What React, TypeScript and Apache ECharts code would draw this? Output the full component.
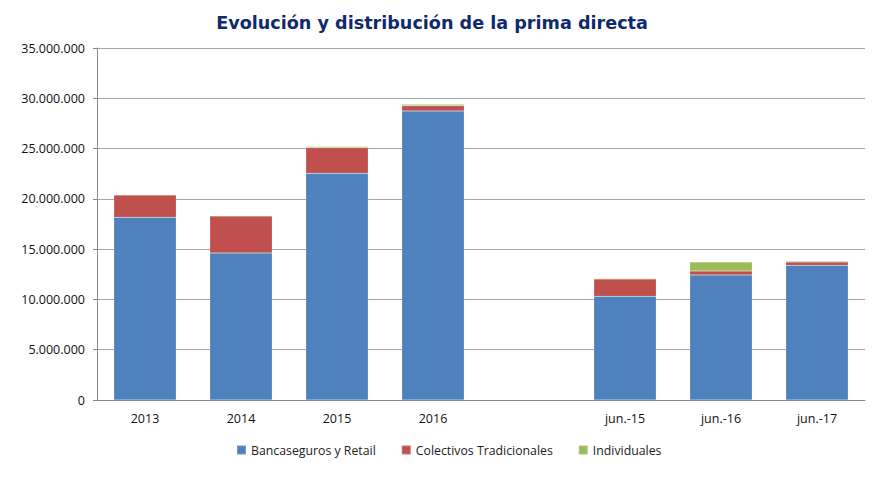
import React, { useEffect, useRef } from "react";
import * as echarts from "echarts";

const categories = ["2013", "2014", "2015", "2016", "", "jun.-15", "jun.-16", "jun.-17"];
const bancaseguros = [18.17, 14.62, 22.54, 28.74, null, 10.31, 12.43, 13.39];
const colectivos = [2.21, 3.68, 2.55, 0.52, null, 1.72, 0.4, 0.33];
const individuales = [0.0, 0.0, 0.12, 0.14, null, 0.08, 0.89, 0.1];
const seriesNames = ["Bancaseguros y Retail", "Colectivos Tradicionales", "Individuales"];
const colors = ["#4F81BD", "#C0504D", "#9BBB59"];

const toUnits = (arr: (number | null)[]) => arr.map((v) => (v == null ? null : Math.round(v * 1000000)));

const fmt = (v: number) => String(Math.round(v)).replace(/\B(?=(\d{3})+(?!\d))/g, ".");

export default function App() {
  const ref = useRef<HTMLDivElement>(null);
  useEffect(() => {
    if (!ref.current) return;
    const chart = echarts.init(ref.current, undefined, { renderer: "svg" });
    const data = [bancaseguros, colectivos, individuales];
    chart.setOption({
      animation: false,
      backgroundColor: "#ffffff",
      title: {
        text: "Evolución y distribución de la prima directa",
        left: 427,
        textAlign: "center",
        top: 9,
        textStyle: {
          fontFamily: "DejaVu Sans",
          fontWeight: "bold",
          fontSize: 17.6,
          color: "#0F2A6B",
        },
      },
      legend: {
        bottom: 29,
        left: 231,
        itemWidth: 9,
        itemHeight: 9,
        itemGap: 25,
        icon: "rect",
        textStyle: { fontFamily: "Open Sans", fontSize: 12.3, color: "#222" },
        data: seriesNames,
      },
      grid: { left: 97, right: 12, top: 48, bottom: 90 },
      xAxis: {
        type: "category",
        data: categories,
        axisLine: { lineStyle: { color: "#888", width: 1 } },
        axisTick: { show: false },
        axisLabel: { fontFamily: "Open Sans", fontSize: 12.5, color: "#111", margin: 12, interval: 0 },
      },
      yAxis: {
        type: "value",
        min: 0,
        max: 35000000,
        interval: 5000000,
        axisLine: { show: true, lineStyle: { color: "#888" } },
        axisTick: { show: true, inside: false, length: 4, lineStyle: { color: "#888" } },
        splitLine: { lineStyle: { color: "#A6A6A6", width: 1 } },
        axisLabel: {
          fontFamily: "Open Sans",
          fontSize: 12.5,
          color: "#111",
          margin: 12,
          formatter: (v: number) => fmt(v),
        },
      },
      series: seriesNames.map((name, i) => ({
        name,
        type: "bar",
        stack: "total",
        barCategoryGap: "35%",
        data: toUnits(data[i]),
        itemStyle: { color: colors[i], borderColor: "rgba(255,255,255,0.2)", borderWidth: 0.5 },
      })),
    });
    return () => chart.dispose();
  }, []);
  return (
    <div
      ref={ref}
      style={{ position: "fixed", left: 0, top: 0, width: 877, height: 490, background: "#fff" }}
    />
  );
}
